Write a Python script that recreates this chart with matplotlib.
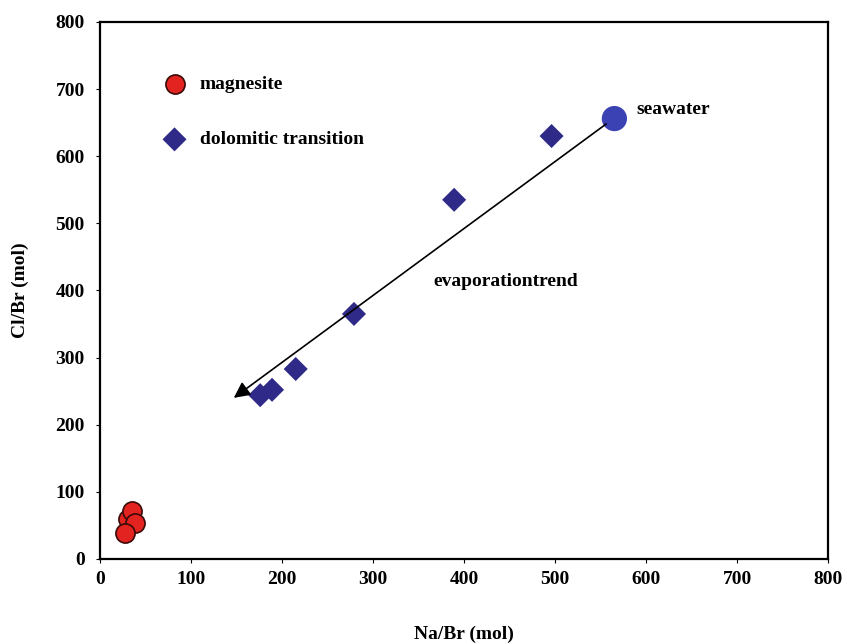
import matplotlib
matplotlib.use("Agg")
import matplotlib.pyplot as plt

# Data
magnesite_na = [31, 35, 38, 27]
magnesite_cl = [60, 72, 53, 38]
dolo_na = [496, 389, 279, 215, 189, 176]
dolo_cl = [630, 535, 365, 283, 252, 244]
seawater_na = [565]
seawater_cl = [656]
arrow_start = (556, 648)
arrow_end = (147, 240)
xticks = [0, 100, 200, 300, 400, 500, 600, 700, 800]
yticks = [0, 100, 200, 300, 400, 500, 600, 700, 800]

plt.rcParams['font.family'] = ['Liberation Serif', 'DejaVu Serif']
plt.rcParams['font.weight'] = 'bold'

fig = plt.figure(figsize=(8.47, 6.44), dpi=100)
ax = fig.add_axes([0.118, 0.132, 0.860, 0.834])

ax.scatter(magnesite_na, magnesite_cl, s=190, marker='o', facecolor='#e3231f',
           edgecolor='#3a0a08', linewidth=1.2, zorder=3, label='magnesite')
ax.scatter(dolo_na, dolo_cl, s=150, marker='D', facecolor='#2f2a88',
           edgecolor='none', zorder=3, label='dolomitic transition')
ax.scatter(seawater_na, seawater_cl, s=330, marker='o', facecolor='#3b42b4',
           edgecolor='none', zorder=3)

ax.annotate('', xy=arrow_end, xytext=arrow_start,
            arrowprops=dict(arrowstyle='-|>', color='black', lw=1.2,
                            mutation_scale=24, shrinkA=0, shrinkB=0))

ax.text(589, 670, 'seawater', fontsize=14, fontweight='bold', va='center', ha='left')
ax.text(366, 414, 'evaporationtrend', fontsize=14, fontweight='bold', va='center', ha='left')

ax.set_xlim(0, 800)
ax.set_ylim(0, 800)
ax.set_xticks(xticks)
ax.set_yticks(yticks)
ax.tick_params(direction='out', length=3, width=0.8, labelsize=14)
ax.tick_params(axis='x', pad=6)
ax.tick_params(axis='y', pad=8)
for lab in ax.get_xticklabels() + ax.get_yticklabels():
    lab.set_fontweight('bold')
for sp in ax.spines.values():
    sp.set_linewidth(1.6)

ax.set_xlabel('Na/Br (mol)', fontsize=14, fontweight='bold', labelpad=27)
ax.set_ylabel('Cl/Br (mol)', fontsize=14, fontweight='bold', labelpad=19)

leg = ax.legend(loc='upper left', bbox_to_anchor=(0.065, 0.915), frameon=False,
                fontsize=14, labelspacing=1.95, handletextpad=0.3, borderaxespad=0,
                scatterpoints=1)
for t in leg.get_texts():
    t.set_fontweight('bold')

fig.savefig('out.png', dpi=100)
